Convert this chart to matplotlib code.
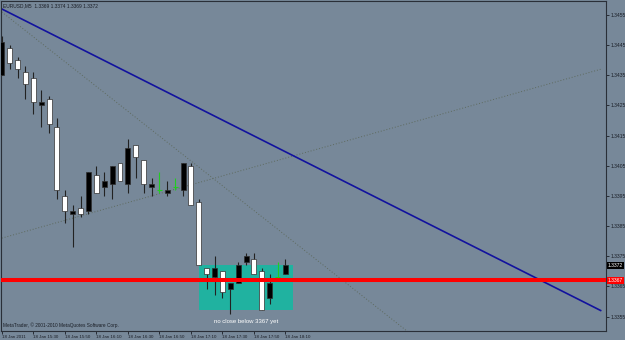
import numpy as np
import matplotlib.pyplot as plt
from matplotlib.patches import Rectangle

# EURUSD M5 candles (MetaTrader colours: bull = black, bear = white, doji = green)
opens = [1.3435, 1.3444, 1.3440, 1.3436, 1.3434, 1.3425, 1.3427, 1.3418, 1.3395, 1.3389,
         1.3391, 1.3390, 1.3402, 1.3398, 1.3399, 1.3406, 1.3399, 1.3412, 1.3407, 1.3398,
         1.3397, 1.3396, 1.3398, 1.3397, 1.3405, 1.3393, 1.3371, 1.3368, 1.3370, 1.3364,
         1.3366, 1.3373, 1.3374, 1.3370, 1.3361, 1.3368, 1.3369]
highs = [1.3448, 1.3445, 1.3441, 1.3438, 1.3436, 1.3430, 1.3428, 1.3421, 1.3397, 1.3392,
         1.3395, 1.3403, 1.3405, 1.3403, 1.3405, 1.3406, 1.3414, 1.3412, 1.3407, 1.3401,
         1.3403, 1.3400, 1.3401, 1.3406, 1.3406, 1.3394, 1.3371, 1.3375, 1.3370, 1.3366,
         1.3373, 1.3376, 1.3376, 1.3371, 1.3369, 1.3373, 1.3374]
lows = [1.3435, 1.3437, 1.3434, 1.3427, 1.3422, 1.3418, 1.3416, 1.3394, 1.3386, 1.3378,
        1.3388, 1.3389, 1.3396, 1.3395, 1.3394, 1.3400, 1.3396, 1.3401, 1.3396, 1.3395,
        1.3396, 1.3395, 1.3397, 1.3395, 1.3392, 1.3372, 1.3364, 1.3362, 1.3361, 1.3356,
        1.3366, 1.3372, 1.3369, 1.3357, 1.3359, 1.3367, 1.3369]
closes = [1.3446, 1.3439, 1.3437, 1.3432, 1.3426, 1.3426, 1.3419, 1.3397, 1.3390, 1.3390,
          1.3389, 1.3403, 1.3396, 1.3400, 1.3405, 1.3400, 1.3411, 1.3408, 1.3399, 1.3399,
          1.3397, 1.3397, 1.3398, 1.3406, 1.3392, 1.3372, 1.3369, 1.3371, 1.3363, 1.3366,
          1.3372, 1.3375, 1.3369, 1.3357, 1.3366, 1.3368, 1.3372]

time_ticks = [0, 4, 8, 12, 16, 20, 24, 28, 32, 36]
time_labels = ['18 Jan 2011', '18 Jan 15:30', '18 Jan 15:50', '18 Jan 16:10', '18 Jan 16:30',
               '18 Jan 16:50', '18 Jan 17:10', '18 Jan 17:30', '18 Jan 17:50', '18 Jan 18:10']
price_ticks = [1.3355, 1.3365, 1.3375, 1.3385, 1.3395, 1.3405, 1.3415, 1.3425, 1.3435, 1.3445, 1.3455]

# drawn objects (bar index, price)
trend_blue = ([0, 76], [1.3457, 1.3357])
dotted_down = ([0, 52], [1.3456, 1.3349])
dotted_up = ([0, 76], [1.3381, 1.3437])
support_level = 1.3367
last_price = 1.3372
box_bars = (25, 37)
box_prices = (1.3357, 1.3372)

bg = '#778899'
plt.rcParams['font.family'] = ['Liberation Sans', 'DejaVu Sans']

fig = plt.figure(figsize=(6.25, 3.4), dpi=100, facecolor=bg)
ax = fig.add_axes([1 / 625, 9 / 340, 605 / 625, 330 / 340], facecolor=bg)

# teal rectangle under the candles
ax.add_patch(Rectangle((box_bars[0], box_prices[0]), box_bars[1] - box_bars[0],
                       box_prices[1] - box_prices[0], facecolor='#20b2a0', edgecolor='none', zorder=1))

# faint dotted lines and blue trend line
ax.plot(*dotted_down, color='#5e6a5e', lw=0.7, ls=(0, (1, 2)), zorder=2)
ax.plot(*dotted_up, color='#5e6a5e', lw=0.7, ls=(0, (1, 2)), zorder=2)
ax.plot(*trend_blue, color='#12129e', lw=1.2, zorder=2)

# candles
x = np.arange(len(opens))
o = np.array(opens)
c = np.array(closes)
w = 0.63
for i in x:
    if abs(c[i] - o[i]) < 1e-9:
        ax.vlines(i, lows[i], highs[i], color='#22cc22', lw=0.8, zorder=3)
        ax.hlines(o[i], i - w / 2, i + w / 2, color='#22cc22', lw=0.8, zorder=3)
        continue
    ax.vlines(i, lows[i], highs[i], color='#222222', lw=0.8, zorder=3)
    fill = 'black' if c[i] > o[i] else 'white'
    ax.bar(i, abs(c[i] - o[i]), bottom=min(o[i], c[i]), width=w, color=fill,
           edgecolor='#303030', linewidth=0.5, zorder=4)

# horizontal support line
ax.axhline(support_level, color='#ff0000', lw=2.9, zorder=5)

ax.set_xlim(-0.1, 76.68)
ax.set_ylim(1.33502, 1.345964)

ax.yaxis.tick_right()
ax.set_yticks(price_ticks)
ax.set_yticklabels([f'{p:.4f}' for p in price_ticks])
ax.tick_params(axis='y', length=2, width=0.6, pad=1.5, labelsize=3.6, colors='#1a1e26')
ax.set_xticks(time_ticks)
ax.set_xticklabels(time_labels)
ax.tick_params(axis='x', length=2.5, width=0.6, pad=0.5, labelsize=3.2, colors='#1a1e26')
for lab in ax.get_xticklabels():
    lab.set_horizontalalignment('left')
for s in ax.spines.values():
    s.set_color('#2a2f38')
    s.set_linewidth(0.8)

# price tags on the right axis
ytr = ax.get_yaxis_transform()
ax.text(1.003, last_price, f'{last_price:.4f}', transform=ytr, ha='left', va='center',
        fontsize=3.6, color='white', zorder=6, clip_on=False,
        bbox=dict(boxstyle='square,pad=0.25', fc='black', ec='none'))
ax.text(1.003, support_level, f'{support_level:.4f}', transform=ytr, ha='left', va='center',
        fontsize=3.6, color='white', zorder=6, clip_on=False,
        bbox=dict(boxstyle='square,pad=0.25', fc='#ff0000', ec='none'))

ax.text(0.004, 0.993, 'EURUSD,M5  1.3369 1.3374 1.3369 1.3372', transform=ax.transAxes,
        ha='left', va='top', fontsize=3.5, color='#1a1e26')
ax.text(0.004, 0.008, 'MetaTrader, \u00a9 2001-2010 MetaQuotes Software Corp.', transform=ax.transAxes,
        ha='left', va='bottom', fontsize=3.4, color='#1a1e26')
ax.text(31, 1.33535, 'no close below 3367 yet', ha='center', va='center',
        fontsize=4.3, color='white', zorder=6)

plt.savefig('out.png', dpi=100, facecolor=bg)
